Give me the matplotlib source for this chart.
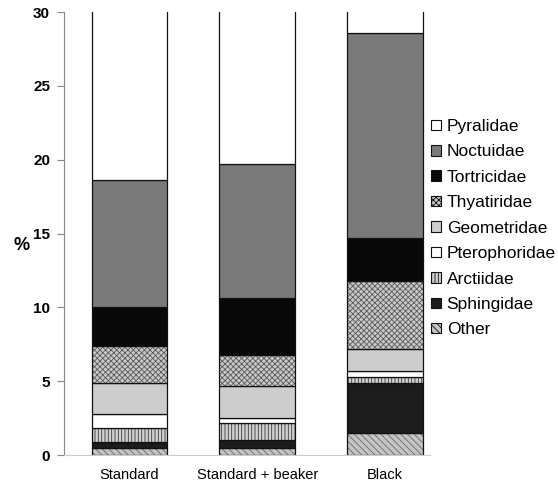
import matplotlib
matplotlib.use("Agg")
import matplotlib.pyplot as plt
import numpy as np
from matplotlib.patches import Patch

plt.rcParams['font.family'] = ['Liberation Sans', 'DejaVu Sans']
plt.rcParams['hatch.linewidth'] = 0.6

categories = ["Standard", "Standard + beaker", "Black"]
# bottom to top stacking order
families = ["Other", "Sphingidae", "Arctiidae", "Pterophoridae", "Geometridae",
            "Thyatiridae", "Tortricidae", "Noctuidae", "Pyralidae"]
other = [0.5, 0.5, 1.5]
sphingidae = [0.4, 0.5, 3.4]
arctiidae = [0.9, 1.2, 0.4]
pterophoridae = [1.0, 0.3, 0.4]
geometridae = [2.1, 2.2, 1.5]
thyatiridae = [2.5, 2.1, 4.6]
tortricidae = [2.6, 3.8, 2.9]
noctuidae = [8.6, 9.1, 13.9]
pyralidae = [15.0, 14.0, 6.0]  # top segment, extends beyond the axis limit

values = [other, sphingidae, arctiidae, pterophoridae, geometridae,
          thyatiridae, tortricidae, noctuidae, pyralidae]
yticks = [0, 5, 10, 15, 20, 25, 30]

styles = {
    "Other": dict(color="#c4c4c4", hatch="\\\\\\\\\\", hc="#6a6a6a"),
    "Sphingidae": dict(color="#1c1c1c", hatch=None, hc=None),
    "Arctiidae": dict(color="#d0d0d0", hatch="|||||", hc="#3a3a3a"),
    "Pterophoridae": dict(color="#ffffff", hatch=None, hc=None),
    "Geometridae": dict(color="#cdcdcd", hatch=None, hc=None),
    "Thyatiridae": dict(color="#c8c8c8", hatch="xxxxxx", hc="#5a5a5a"),
    "Tortricidae": dict(color="#080808", hatch=None, hc=None),
    "Noctuidae": dict(color="#7a7a7a", hatch=None, hc=None),
    "Pyralidae": dict(color="#ffffff", hatch=None, hc=None),
}

W, H = 558, 486
fig = plt.figure(figsize=(W / 100, H / 100), dpi=100)
ax_left, ax_right, ax_bot, ax_top = 64, 430, 455, 12
ax = fig.add_axes([ax_left / W, 1 - ax_bot / H, (ax_right - ax_left) / W, (ax_bot - ax_top) / H])

x = np.arange(len(categories))
bottom = np.zeros(len(categories))
for fam, vals in zip(families, values):
    st = styles[fam]
    ax.bar(x, vals, width=0.59, bottom=bottom, color=st["color"],
           hatch=st["hatch"], edgecolor=st["hc"] if st["hc"] else st["color"],
           linewidth=0)
    ax.bar(x, vals, width=0.59, bottom=bottom, fill=False,
           edgecolor="#111111", linewidth=0.9)
    bottom = bottom + np.array(vals)

handles = []
for fam in families[::-1]:
    st = styles[fam]
    handles.append(Patch(facecolor=st["color"], hatch=st["hatch"],
                         edgecolor="#111111", linewidth=0.8))

ax.set_xlim(-0.51, 2.35)
ax.set_ylim(0, 30)
ax.set_yticks(yticks)
ax.set_xticks(x)
ax.set_xticklabels(categories, fontsize=10.5)
ax.tick_params(axis='x', length=0, pad=9)
ax.tick_params(axis='y', direction='out', length=5, color="#888888", labelsize=11, pad=5)
for lbl in ax.get_yticklabels():
    lbl.set_fontweight('bold')
for s in ["top", "right"]:
    ax.spines[s].set_visible(False)
ax.spines["left"].set_color("#888888")
ax.spines["bottom"].set_color("#cccccc")

fig.text(22 / W, 1 - 245 / H, "%", fontsize=13, fontweight='bold', ha='center', va='center')

leg = fig.legend(handles, families[::-1], loc='upper left',
                 bbox_to_anchor=(431 / W, 1 - 119 / H), frameon=False, fontsize=12.5,
                 handlelength=0.55, handleheight=0.55, handletextpad=0.35,
                 labelspacing=0.6, borderpad=0, borderaxespad=0)

fig.savefig("out.png", dpi=100)
